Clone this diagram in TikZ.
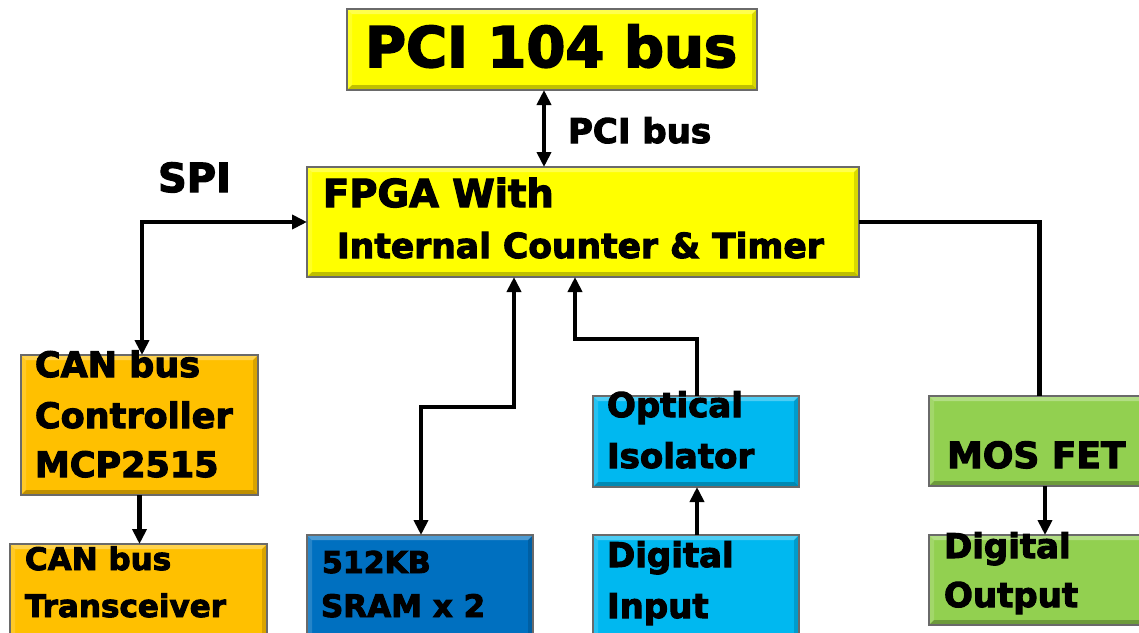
\documentclass[tikz,border=0pt]{standalone}
\usepackage{fontspec}
\setmainfont{DejaVu Sans}[BoldFeatures={FakeBold=3}]
\usetikzlibrary{arrows.meta,calc}
\definecolor{pciyellow}{HTML}{FFFF00}
\definecolor{canorange}{HTML}{FFC000}
\definecolor{sramblue}{HTML}{0070C0}
\definecolor{optcyan}{HTML}{00B8F0}
\definecolor{fetgreen}{HTML}{92D050}
\definecolor{boxedge}{HTML}{6A6A6A}
\tikzset{
  blk/.style={draw=boxedge, line width=1.6pt, inner sep=0pt, outer sep=0pt,
    path picture={
      \coordinate (bnw) at (path picture bounding box.north west);
      \coordinate (bne) at (path picture bounding box.north east);
      \coordinate (bsw) at (path picture bounding box.south west);
      \coordinate (bse) at (path picture bounding box.south east);
      \fill[white,opacity=.30] (bnw) -- (bne) -- ($(bne)+(-5,5)$) -- ($(bnw)+(5,5)$) -- cycle;
      \fill[white,opacity=.15] (bnw) -- (bsw) -- ($(bsw)+(5,-5)$) -- ($(bnw)+(5,5)$) -- cycle;
      \fill[black,opacity=.25] (bsw) -- (bse) -- ($(bse)+(-5,-5)$) -- ($(bsw)+(5,-5)$) -- cycle;
      \fill[black,opacity=.15] (bne) -- (bse) -- ($(bse)+(-5,-5)$) -- ($(bne)+(-5,5)$) -- cycle;
    }},
  tx/.style={anchor=base west, inner sep=0pt, outer sep=0pt, font=\bfseries},
  conn/.style={line width=4.5pt, black},
  tip/.style={-{Triangle[length=15pt,width=14pt]}},
  tips/.style={{Triangle[length=15pt,width=14pt]}-{Triangle[length=15pt,width=14pt]}},
}
\newcommand{\fs}[1]{\fontsize{#1}{#1}\selectfont}
\begin{document}
\begin{tikzpicture}[x=1pt,y=-1pt]
\clip (0,0) rectangle (1139,632);
\fill[white] (0,0) rectangle (1139,632);
% boxes
\node[blk, fill=pciyellow, minimum width=410pt, minimum height=81pt] (pci) at (552,49.5) {};
\node[blk, fill=pciyellow, minimum width=552pt, minimum height=110pt] (fpga) at (583,222) {};
\node[blk, fill=canorange, minimum width=237pt, minimum height=140pt] (can) at (139.5,425) {};
\node[blk, fill=canorange, minimum width=257pt, minimum height=106pt] (trx) at (138.5,597) {};
\node[blk, fill=sramblue, minimum width=226pt, minimum height=115pt] (sram) at (420,592.5) {};
\node[blk, fill=optcyan, minimum width=206pt, minimum height=91pt] (opt) at (696,441.5) {};
\node[blk, fill=optcyan, minimum width=206pt, minimum height=115pt] (din) at (696,592.5) {};
\node[blk, fill=fetgreen, minimum width=221pt, minimum height=90pt] (mos) at (1039.5,441) {};
\node[blk, fill=fetgreen, minimum width=221pt, minimum height=90pt] (dout) at (1039.5,580) {};
% texts
\node[tx] (t-pci) at (365,67) {\fs{56}PCI 104 bus};
\node[tx] (t-pcibus) at (568,143) {\fs{34}PCI bus};
\node[tx] (t-spi) at (158,192) {\fs{40}SPI};
\node[tx] (t-fpga1) at (323,207) {\fs{38.5}FPGA With};
\node[tx] (t-fpga2) at (337,258) {\fs{34.5}Internal Counter \& Timer};
\node[tx] (t-can1) at (35,377) {\fs{35}CAN bus};
\node[tx] (t-can2) at (35,428) {\fs{35}Controller};
\node[tx] (t-can3) at (35,477) {\fs{35}MCP2515};
\node[tx] (t-trx1) at (25,570) {\fs{31}CAN bus};
\node[tx] (t-trx2) at (25,617) {\fs{31}Transceiver};
\node[tx] (t-sram1) at (322,573) {\fs{30}512KB};
\node[tx] (t-sram2) at (321,617) {\fs{31}SRAM x 2};
\node[tx] (t-opt1) at (607,417) {\fs{34}Optical};
\node[tx] (t-opt2) at (607,468) {\fs{34}Isolator};
\node[tx] (t-din1) at (607,567) {\fs{34}Digital};
\node[tx] (t-din2) at (607,618) {\fs{34}Input};
\node[tx] (t-mos) at (947,468) {\fs{36}MOS FET};
\node[tx] (t-dout1) at (944,558) {\fs{34}Digital};
\node[tx] (t-dout2) at (944,607) {\fs{34}Output};
% helper coordinates
\coordinate (c-pci) at (544,0);
\coordinate (c-sram) at (514,407);
\coordinate (c-opt) at (575,339);
% connectors
\draw[conn, tips] (c-pci |- pci.south) -- (c-pci |- fpga.north);
\draw[conn, tips] ([xshift=2.5pt]can.north) |- (fpga.west);
\draw[conn, tip] (can.south) -- (trx.north -| can.south);
\draw[conn, tips] ([xshift=1pt]sram.north) |- (c-sram) -- (c-sram |- fpga.south);
\draw[conn, tip] ([xshift=1pt]opt.north) |- (c-opt) -- (c-opt |- fpga.south);
\draw[conn, tip] ([xshift=1pt]din.north) -- ([xshift=1pt]opt.south);
\draw[conn] (fpga.east) -| (mos.north);
\draw[conn, tip] ([xshift=5.5pt]mos.south) -- ([xshift=5.5pt]dout.north);
\end{tikzpicture}
\end{document}
